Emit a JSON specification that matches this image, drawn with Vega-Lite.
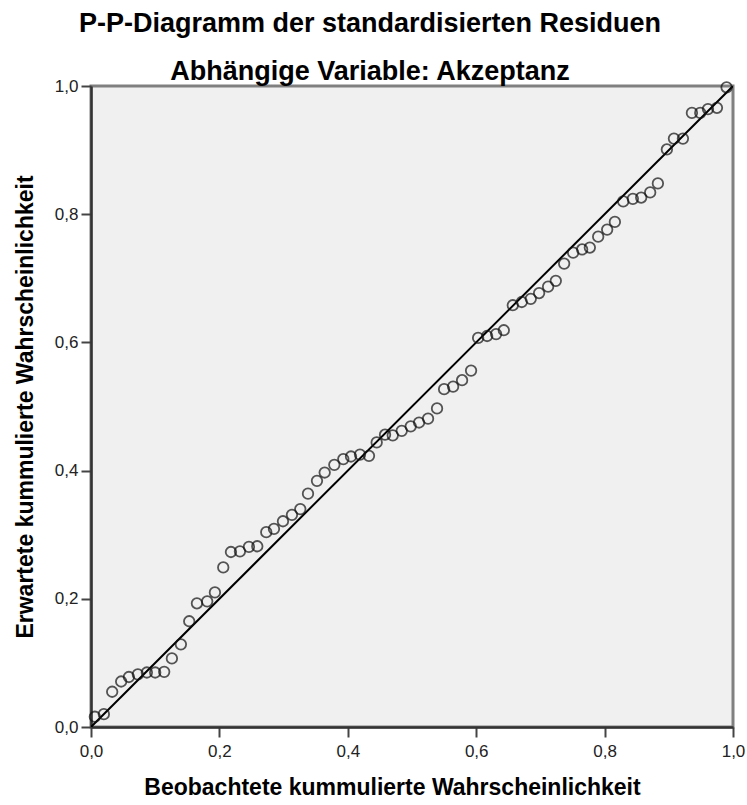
{
  "$schema": "https://vega.github.io/schema/vega-lite/v6.json",
  "autosize": {"type": "none"},
  "width": 642,
  "height": 641,
  "padding": {"left": 91, "top": 86, "right": 14, "bottom": 78},
  "background": "#ffffff",
  "title": {
    "text": "P-P-Diagramm der standardisierten Residuen",
    "subtitle": "Abhängige Variable: Akzeptanz",
    "anchor": "middle",
    "dx": -42,
    "offset": -9,
    "font": "Liberation Sans",
    "fontSize": 27,
    "fontWeight": "bold",
    "color": "#000000",
    "subtitleFont": "Liberation Sans",
    "subtitleFontSize": 27,
    "subtitleFontWeight": "bold",
    "subtitleColor": "#000000",
    "subtitlePadding": 21
  },
  "config": {
    "view": {"fill": "#f0f0f0", "stroke": "#808080", "strokeWidth": 3},
    "axis": {
      "grid": false,
      "domainColor": "#333333",
      "domainWidth": 2.5,
      "tickColor": "#444444",
      "tickWidth": 2,
      "tickSize": 10,
      "labelFont": "Liberation Sans",
      "labelFontSize": 17,
      "labelColor": "#222222",
      "titleFont": "Liberation Sans",
      "titleFontWeight": "bold",
      "titleColor": "#000000"
    }
  },
  "datasets": {
    "pp": [
      {"x": 0.006, "y": 0.016}, {"x": 0.020, "y": 0.020}, {"x": 0.033, "y": 0.055}, {"x": 0.047, "y": 0.071},
      {"x": 0.059, "y": 0.078}, {"x": 0.073, "y": 0.082}, {"x": 0.087, "y": 0.085}, {"x": 0.100, "y": 0.085},
      {"x": 0.114, "y": 0.086}, {"x": 0.126, "y": 0.107}, {"x": 0.140, "y": 0.129}, {"x": 0.153, "y": 0.165},
      {"x": 0.165, "y": 0.193}, {"x": 0.181, "y": 0.196}, {"x": 0.193, "y": 0.210}, {"x": 0.206, "y": 0.249},
      {"x": 0.218, "y": 0.273}, {"x": 0.232, "y": 0.274}, {"x": 0.246, "y": 0.281}, {"x": 0.259, "y": 0.282},
      {"x": 0.273, "y": 0.304}, {"x": 0.285, "y": 0.309}, {"x": 0.299, "y": 0.321}, {"x": 0.313, "y": 0.331},
      {"x": 0.326, "y": 0.340}, {"x": 0.338, "y": 0.364}, {"x": 0.352, "y": 0.384}, {"x": 0.364, "y": 0.397},
      {"x": 0.379, "y": 0.409}, {"x": 0.393, "y": 0.418}, {"x": 0.405, "y": 0.422}, {"x": 0.419, "y": 0.425},
      {"x": 0.433, "y": 0.423}, {"x": 0.445, "y": 0.444}, {"x": 0.458, "y": 0.456}, {"x": 0.470, "y": 0.455},
      {"x": 0.484, "y": 0.462}, {"x": 0.498, "y": 0.469}, {"x": 0.511, "y": 0.475}, {"x": 0.525, "y": 0.481},
      {"x": 0.539, "y": 0.497}, {"x": 0.550, "y": 0.527}, {"x": 0.564, "y": 0.531}, {"x": 0.578, "y": 0.541},
      {"x": 0.592, "y": 0.556}, {"x": 0.603, "y": 0.607}, {"x": 0.617, "y": 0.610}, {"x": 0.631, "y": 0.613},
      {"x": 0.643, "y": 0.619}, {"x": 0.657, "y": 0.658}, {"x": 0.671, "y": 0.663}, {"x": 0.685, "y": 0.668},
      {"x": 0.698, "y": 0.677}, {"x": 0.712, "y": 0.687}, {"x": 0.724, "y": 0.696}, {"x": 0.737, "y": 0.723},
      {"x": 0.751, "y": 0.740}, {"x": 0.765, "y": 0.745}, {"x": 0.777, "y": 0.748}, {"x": 0.790, "y": 0.765},
      {"x": 0.804, "y": 0.776}, {"x": 0.816, "y": 0.788}, {"x": 0.829, "y": 0.820}, {"x": 0.844, "y": 0.824},
      {"x": 0.857, "y": 0.826}, {"x": 0.871, "y": 0.834}, {"x": 0.883, "y": 0.848}, {"x": 0.897, "y": 0.901},
      {"x": 0.908, "y": 0.918}, {"x": 0.922, "y": 0.918}, {"x": 0.936, "y": 0.958}, {"x": 0.949, "y": 0.958},
      {"x": 0.961, "y": 0.964}, {"x": 0.975, "y": 0.966}, {"x": 0.990, "y": 0.998}
    ],
    "diag": [{"p": 0}, {"p": 1}]
  },
  "layer": [
    {
      "data": {"name": "diag"},
      "mark": {"type": "line", "color": "#000000", "strokeWidth": 2, "clip": true},
      "encoding": {
        "x": {"field": "p", "type": "quantitative"},
        "y": {"field": "p", "type": "quantitative"}
      }
    },
    {
      "data": {"name": "pp"},
      "mark": {"type": "point", "shape": "circle", "filled": false, "color": "#111111", "size": 110, "strokeWidth": 1.8},
      "encoding": {
        "x": {
          "field": "x", "type": "quantitative",
          "scale": {"domain": [0, 1], "nice": false, "zero": false},
          "axis": {
            "title": "Beobachtete kummulierte Wahrscheinlichkeit",
            "titleFontSize": 23,
            "titlePadding": 17,
            "titleX": 301,
            "values": [0, 0.2, 0.4, 0.6, 0.8, 1],
            "labelPadding": 6,
            "labelFlush": false,
            "labelExpr": "replace(format(datum.value, '.1f'), '.', ',')"
          }
        },
        "y": {
          "field": "y", "type": "quantitative",
          "scale": {"domain": [0, 1], "nice": false, "zero": false},
          "axis": {
            "title": "Erwartete kummulierte Wahrscheinlichkeit",
            "titleFontSize": 23,
            "titlePadding": 17,
            "values": [0, 0.2, 0.4, 0.6, 0.8, 1],
            "labelPadding": 3,
            "labelFlush": false,
            "labelExpr": "replace(format(datum.value, '.1f'), '.', ',')"
          }
        }
      }
    }
  ]
}
